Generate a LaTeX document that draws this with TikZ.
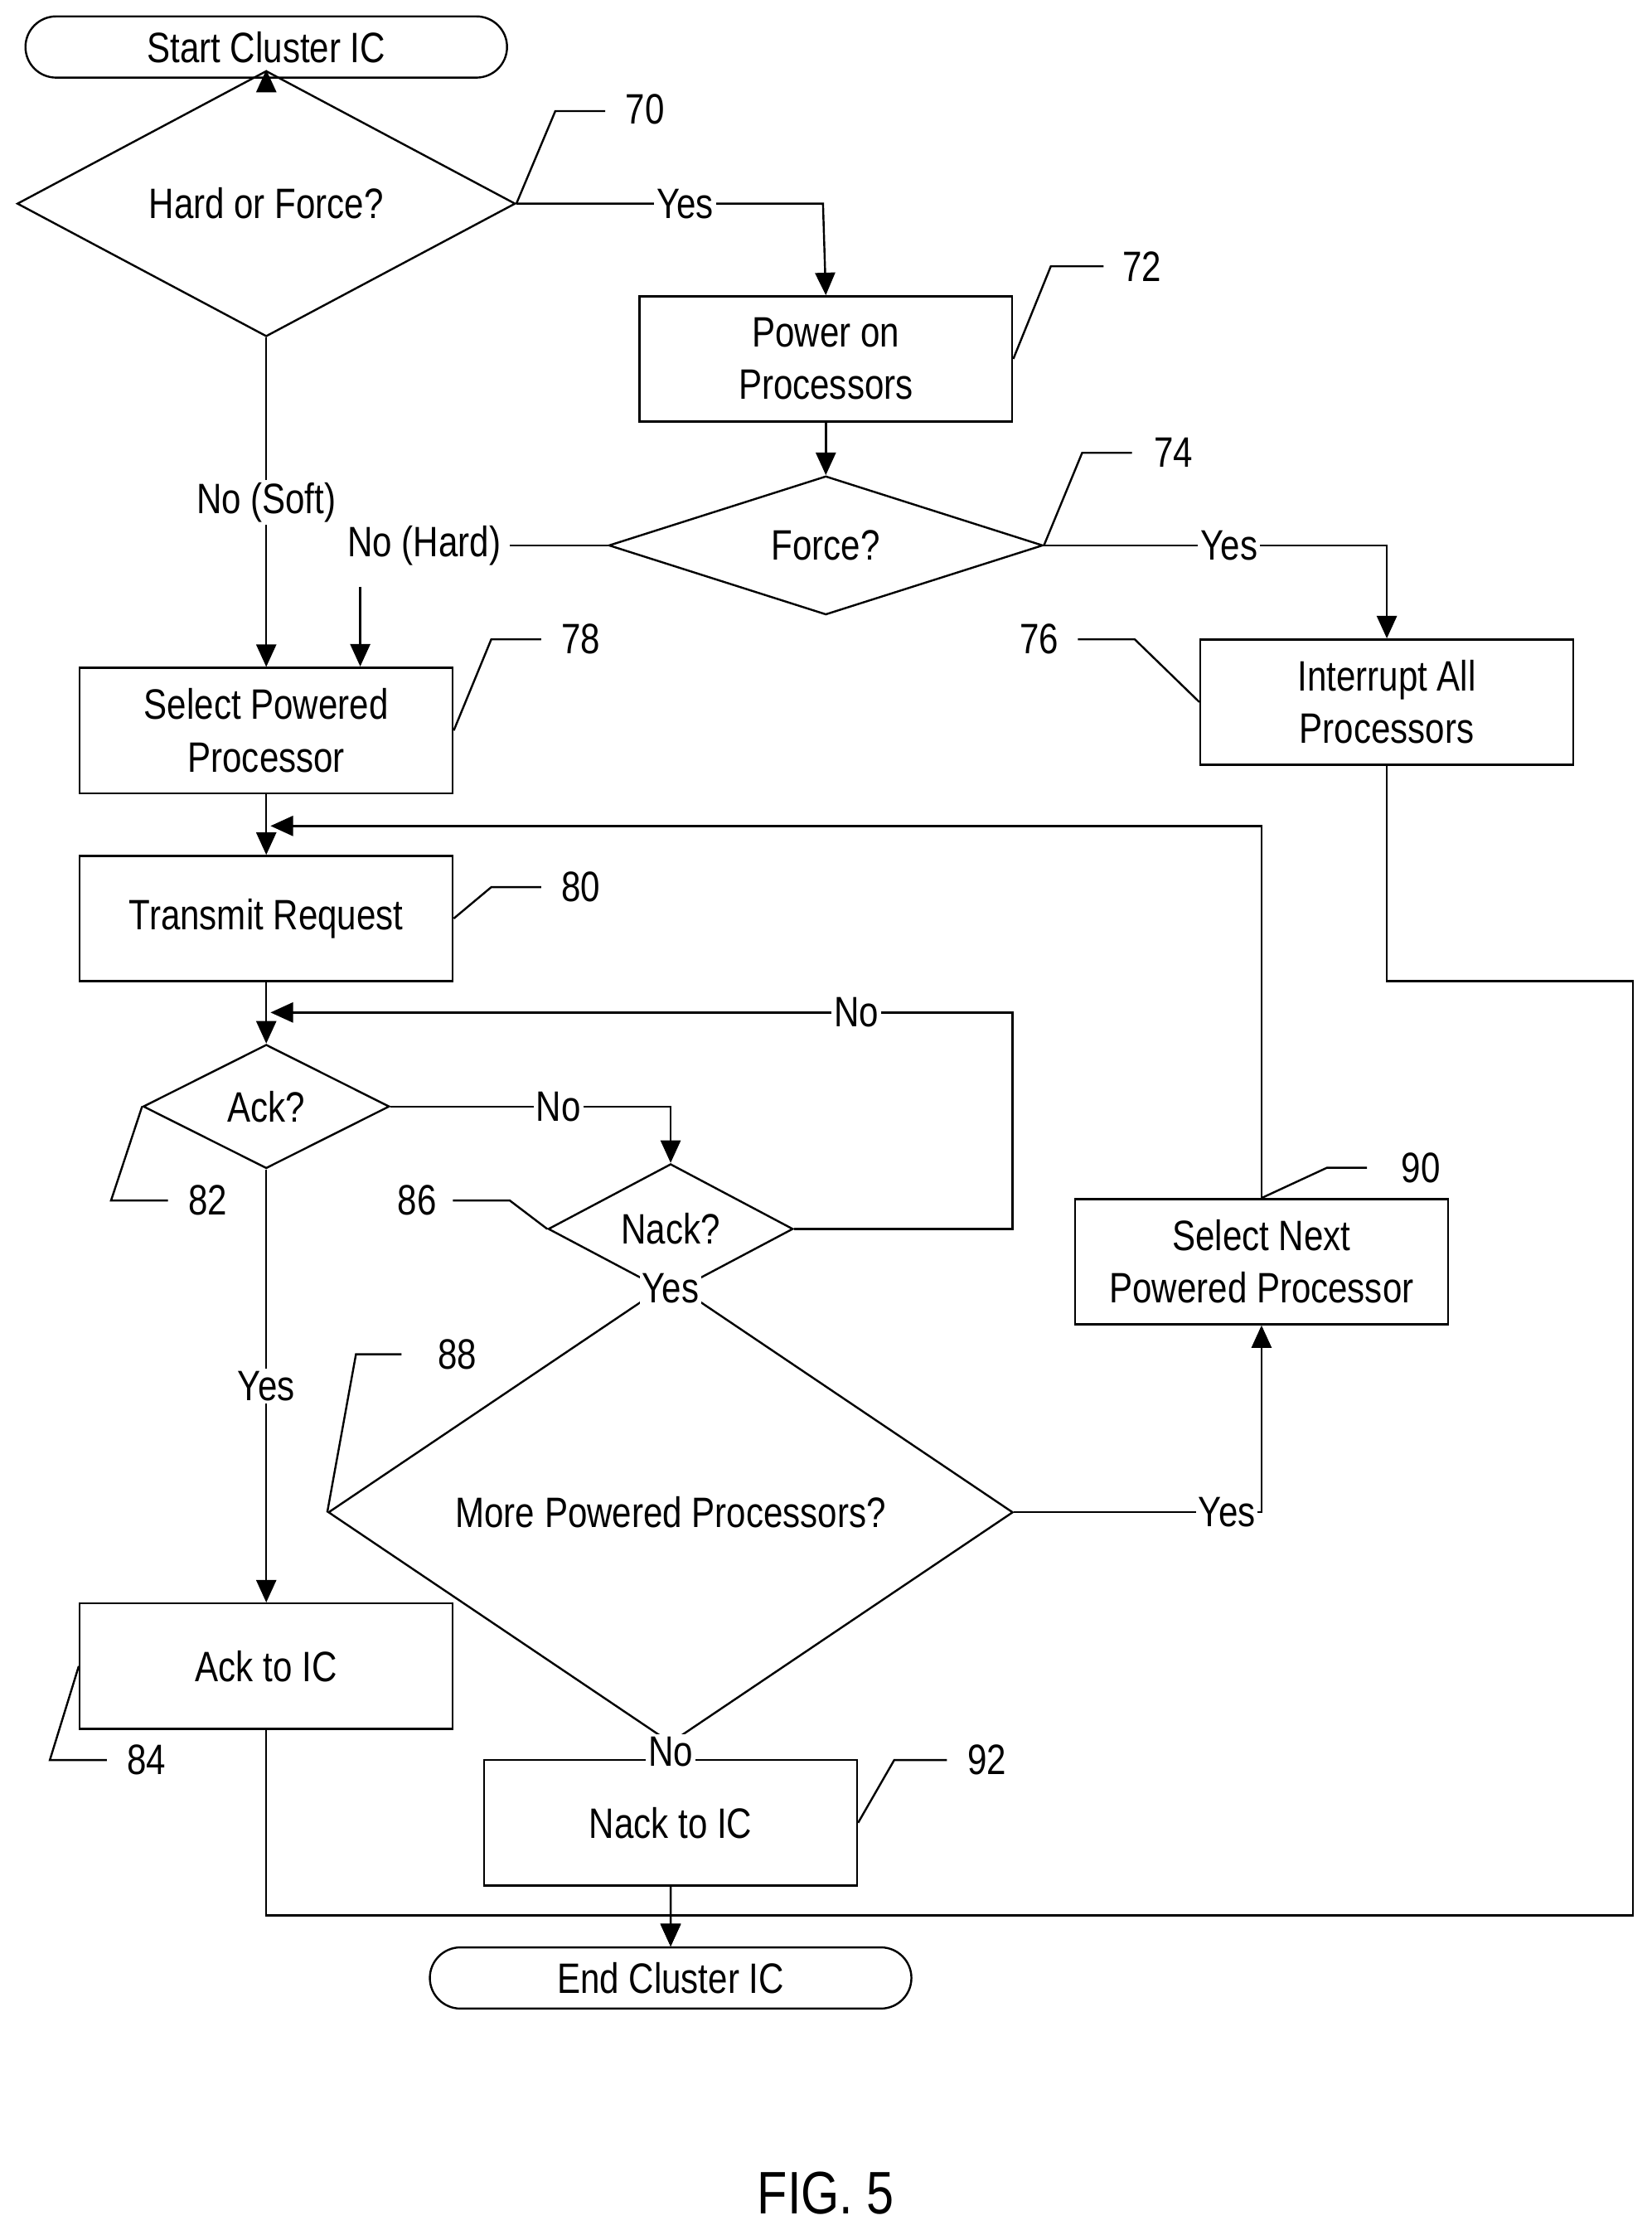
\documentclass[tikz,border=0pt]{standalone}
\usepackage{fontspec}
\setmainfont{Liberation Sans}[FakeStretch=0.82]
\usetikzlibrary{arrows.meta,shapes,positioning,calc}
\tikzset{
  box/.style={draw, rectangle, line width=0.8pt, minimum width=5.24cm, minimum height=1.76cm, align=center},
  dec/.style={draw, diamond, line width=0.8pt, inner sep=0pt},
  term/.style={draw, rounded rectangle, line width=0.8pt, minimum width=7cm, minimum height=0.86cm},
  flow/.style={line width=0.8pt},
  arr/.style={flow, -{Triangle[length=9pt,width=8pt]}},
  lbl/.style={fill=white, inner sep=1pt},
  tag/.style={flow},
}
\begin{document}
\begin{tikzpicture}[x=0.02cm, y=-0.02cm, font=\fontsize{17}{21}\selectfont]
    \useasboundingbox (0,0) rectangle (1160,1566);
    % Terminals
    \node[term] (start) at (187,33) {Start Cluster IC};
    \node[term] (end) at (471,1389) {End Cluster IC};

    % Decisions
    \node[dec, minimum width=7cm, minimum height=1.72cm] (hard) at (187,143) {Hard or Force?};
    \node[dec, minimum width=6.1cm, minimum height=1.74cm] (force) at (580,383) {Force?};
    \node[dec, minimum width=3.46cm, minimum height=1.74cm] (ack) at (187,777) {Ack?};
    \node[dec, minimum width=3.44cm, minimum height=1.74cm] (nack) at (471,863) {Nack?};
    \node[dec, minimum width=9.62cm, minimum height=2.6cm] (more) at (471,1062) {More Powered Processors?};

    % Process boxes
    \node[box] (power) at (580,252) {Power on\\Processors};
    \node[box] (intr) at (974,493) {Interrupt All\\Processors};
    \node[box] (select) at (187,513) {Select Powered\\Processor};
    \node[box] (trans) at (187,645) {Transmit Request};
    \node[box] (next) at (886,886) {Select Next\\Powered Processor};
    \node[box] (ackic) at (187,1170) {Ack to IC};
    \node[box] (nackic) at (471,1280) {Nack to IC};

    % Connectors
    \draw[arr] (start) -- (hard);
    \draw[arr] (hard.east) -- node[lbl, pos=0.55]{Yes} (578,143) -- (power.north);
    \draw[arr] (hard.south) -- node[lbl, pos=0.5]{No (Soft)} (select.north);
    \draw[arr] (power) -- (force);
    \draw[arr] (force.east) -- node[lbl, pos=0.54]{Yes} (974,383) -- (intr.north);
    \node (nohard) at (298,383) {No (Hard)};
    \draw[flow] (force.west) -- (nohard.east);
    \draw[arr] (253,412) -- (253,468);
    \draw[arr] (select) -- (trans);
    \draw[arr] (trans) -- (ack);
    \draw[arr] (ack.east) -- node[lbl, pos=0.6]{No} (471,777) -- (nack.north);
    \draw[arr] (nack.east) -- (711,863) -- (711,711) -- node[lbl, pos=0.21]{No} (190,711);
    \draw[arr] (ack.south) -- node[lbl, pos=0.5]{Yes} (ackic.north);
    \draw[arr] (nack.south) -- node[lbl, pos=0.45]{Yes} (more.north);
    \draw[arr] (more.east) -- node[lbl, pos=0.86]{Yes} (886,1062) -- (next.south);
    \draw[arr] (next.north) -- (886,580) -- (190,580);
    \draw[arr] (more.south) -- node[lbl, pos=0.5]{No} (nackic.north);
    \draw[arr] (nackic) -- (end);
    \draw[arr] (ackic.south) -- (187,1345) -- (471,1345) -- (end.north);
    \draw[arr] (intr.south) -- (974,689) -- (1147,689) -- (1147,1345) -- (471,1345) -- (end.north);

    % Reference numerals
    \draw[tag] (hard.east) -- (390,78) -- (425,78);
    \node (n70) at (453,77) {70};
    \draw[tag] (power.east) -- (738,187) -- (775,187);
    \node (n72) at (802,187) {72};
    \draw[tag] (force.east) -- (760,318) -- (795,318);
    \node (n74) at (824,318) {74};
    \node (n76) at (730,449) {76};
    \draw[tag] (757,449) -- (797,449) -- (intr.west);
    \draw[tag] (select.east) -- (345,449) -- (380,449);
    \node (n78) at (408,449) {78};
    \draw[tag] (trans.east) -- (345,623) -- (380,623);
    \node (n80) at (408,623) {80};
    \draw[tag] (ack.west) -- (78,843) -- (118,843);
    \node (n82) at (146,843) {82};
    \node (n86) at (293,843) {86};
    \draw[tag] (318,843) -- (358,843) -- (nack.west);
    \draw[tag] (more.west) -- (250,951) -- (282,951);
    \node (n88) at (321,951) {88};
    \draw[tag] (next.north) -- (932,820) -- (960,820);
    \node (n90) at (998,820) {90};
    \draw[tag] (ackic.west) -- (35,1236) -- (75,1236);
    \node (n84) at (103,1236) {84};
    \draw[tag] (nackic.east) -- (628,1236) -- (665,1236);
    \node (n92) at (693,1236) {92};

    \node[font=\fontsize{24}{28}\selectfont] (fig) at (580,1540) {FIG. 5};
\end{tikzpicture}
\end{document}
